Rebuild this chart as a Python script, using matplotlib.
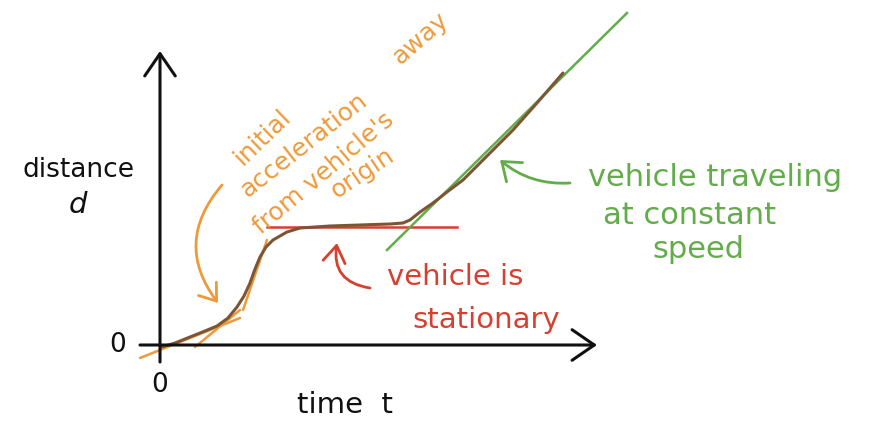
import matplotlib
matplotlib.use('Agg')
import matplotlib.pyplot as plt
import numpy as np

# distance-time curve, t in time units, d in distance units
t_curve = [0.05, 0.375, 0.75, 1.125, 1.425, 1.7, 1.925, 2.1, 2.25, 2.375, 2.5, 2.65, 2.825,
           3.175, 3.5, 4.25, 5.0, 5.75, 6.075, 6.25, 6.5, 6.825, 7.175, 7.575, 7.925, 8.25,
           8.825, 9.425, 9.75, 10.075]
d_curve = [-0.05, 0.05, 0.2, 0.35, 0.475, 0.675, 0.95, 1.225, 1.55, 1.9, 2.2, 2.45, 2.625,
           2.825, 2.925, 2.975, 3.0, 3.025, 3.05, 3.125, 3.325, 3.55, 3.825, 4.125, 4.475, 4.8,
           5.375, 6.05, 6.425, 6.8]

# tangent lines (orange = acceleration, red = stationary, green = constant speed)
accel_t = [[-0.5, 2.0], [0.875, 2.0], [2.075, 2.675]]
accel_d = [[-0.325, 0.675], [-0.05, 0.875], [0.875, 2.625]]
stat_t = [2.675, 7.425]
stat_d = [2.95, 2.95]
speed_t = [5.675, 11.675]
speed_d = [2.375, 8.3]

# rotated orange note
orange_words = ['initial', 'acceleration', "from vehicle's", 'origin', 'away']
orange_t = [2.575, 3.6, 4.1, 5.075, 6.5]
orange_d = [5.2, 5.0, 4.3, 4.3, 7.675]
orange_rot = [44, 38, 40, 34, 41]

BLACK = '#111111'
BROWN = '#7d5534'
ORANGE = '#ee9a3a'
RED = '#d6402f'
GREEN = '#62ac4a'

fig = plt.figure(figsize=(8.71, 4.33), dpi=100)
ax = fig.add_axes([0, 0, 1, 1])
ax.set_xlim(-4.0, 17.775)
ax.set_ylim(-2.2, 8.625)
ax.axis('off')

# axes arrows
ax.annotate('', xy=(10.925, 0), xytext=(-0.5, 0),
            arrowprops=dict(arrowstyle='->,head_length=0.8,head_width=0.55',
                            lw=2.2, color=BLACK, mutation_scale=20, shrinkA=0, shrinkB=0))
ax.annotate('', xy=(0, 7.35), xytext=(0, -0.425),
            arrowprops=dict(arrowstyle='->,head_length=0.8,head_width=0.55',
                            lw=2.2, color=BLACK, mutation_scale=20, shrinkA=0, shrinkB=0))

# tangents
for tt, dd in zip(accel_t, accel_d):
    ax.plot(tt, dd, color=ORANGE, lw=1.8, solid_capstyle='round')
ax.plot(stat_t, stat_d, color=RED, lw=1.8)
ax.plot(speed_t, speed_d, color=GREEN, lw=1.8)

# curve
ax.plot(t_curve, d_curve, color=BROWN, lw=2.2, solid_capstyle='round')

# labels
font = dict(family='DejaVu Sans')
ax.text(-2.05, 4.375, 'distance', fontsize=19, color=BLACK, ha='center', va='center', **font)
ax.text(-2.05, 3.5, 'd', fontsize=21, color=BLACK, ha='center', va='center', style='italic', **font)
ax.text(-1.05, 0, '0', fontsize=19, color=BLACK, ha='center', va='center', **font)
ax.text(0, -1.0, '0', fontsize=19, color=BLACK, ha='center', va='center', **font)
ax.text(4.625, -1.5, 'time  t', fontsize=21, color=BLACK, ha='center', va='center', **font)

# stationary annotation
ax.text(7.375, 1.7, 'vehicle is', fontsize=21, color=RED, ha='center', va='center', **font)
ax.text(8.15, 0.625, 'stationary', fontsize=21, color=RED, ha='center', va='center', **font)
ax.annotate('', xy=(4.425, 2.55), xytext=(5.25, 1.425),
            arrowprops=dict(arrowstyle='->,head_length=0.6,head_width=0.4', lw=2,
                            color=RED, mutation_scale=20, shrinkA=0, shrinkB=0,
                            connectionstyle='arc3,rad=-0.5'))

# constant speed annotation
ax.text(13.875, 4.175, 'vehicle traveling', fontsize=22, color=GREEN, ha='center', va='center', **font)
ax.text(13.25, 3.25, 'at constant', fontsize=22, color=GREEN, ha='center', va='center', **font)
ax.text(13.45, 2.375, 'speed', fontsize=22, color=GREEN, ha='center', va='center', **font)
ax.annotate('', xy=(8.5, 4.625), xytext=(10.25, 4.05),
            arrowprops=dict(arrowstyle='->,head_length=0.6,head_width=0.45', lw=2,
                            color=GREEN, mutation_scale=20, shrinkA=0, shrinkB=0,
                            connectionstyle='arc3,rad=-0.2'))

# acceleration annotation (rotated)
for w, tt, dd, r in zip(orange_words, orange_t, orange_d, orange_rot):
    ax.text(tt, dd, w, fontsize=18, color=ORANGE, ha='center', va='center',
            rotation=r, rotation_mode='anchor', **font)
ax.annotate('', xy=(1.45, 1.05), xytext=(1.55, 4.0),
            arrowprops=dict(arrowstyle='->,head_length=0.55,head_width=0.4', lw=2,
                            color=ORANGE, mutation_scale=20, shrinkA=0, shrinkB=0,
                            connectionstyle='arc3,rad=0.4'))

fig.savefig('out.png', dpi=100)
